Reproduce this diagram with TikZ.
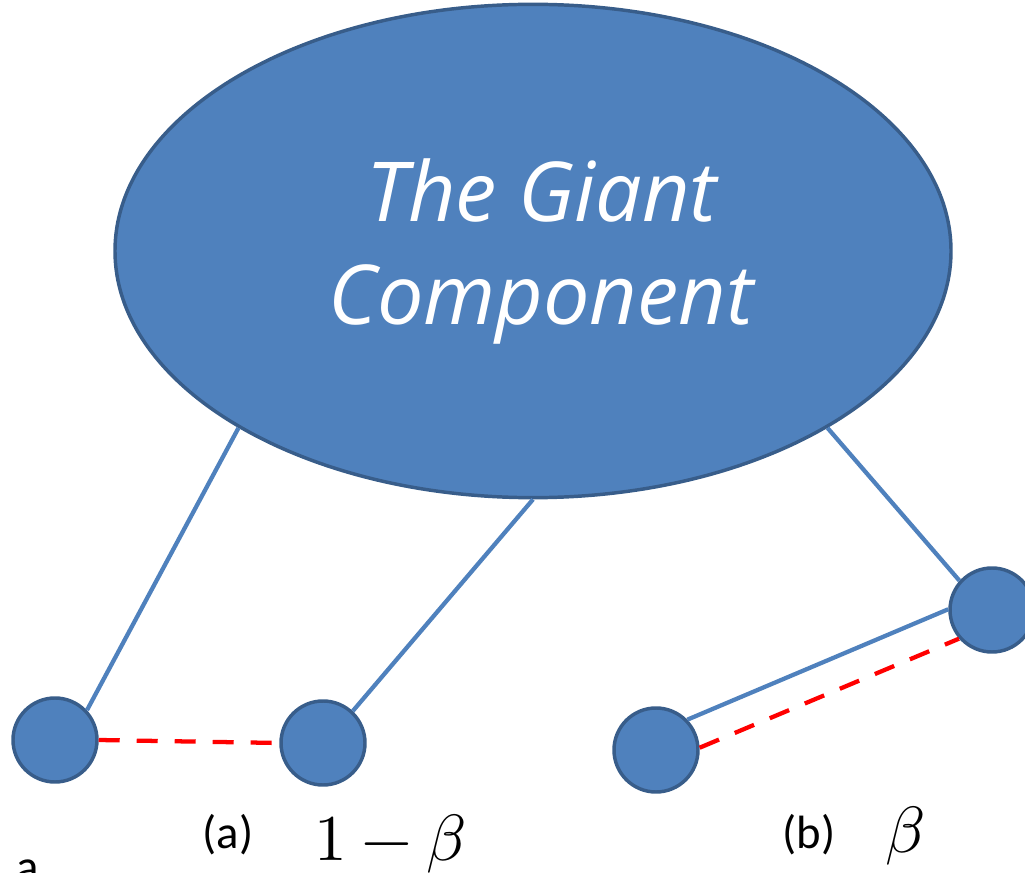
\documentclass[tikz,border=0pt]{standalone}
\usepackage{fontspec}
\usepackage{unicode-math}
\setsansfont{Carlito}
\newfontfamily\handfont{Open Sans}
\usetikzlibrary{shapes.geometric}
\definecolor{nodeblue}{HTML}{4F81BD}
\definecolor{borderblue}{HTML}{385D8A}
\begin{document}
\begin{tikzpicture}[x=0.75pt,y=-0.75pt,
  blob/.style={ellipse, fill=nodeblue, draw=borderblue, line width=2.6pt, inner sep=0pt},
  vert/.style={circle, fill=nodeblue, draw=borderblue, line width=2.6pt, minimum size=63pt, inner sep=0pt},
  edge/.style={draw=nodeblue, line width=3.2pt},
  redge/.style={draw=red, line width=3.2pt, dash pattern=on 15.75pt off 12.75pt},
  hand/.style={text=white, inner sep=0pt, anchor=base, font=\handfont\itshape\fontsize{62}{70}\selectfont},
  lab/.style={inner sep=0pt, font=\sffamily\fontsize{35}{40}\selectfont},
  mathlab/.style={inner sep=0pt, anchor=base, font=\fontsize{49}{55}\selectfont}]
\clip (0,0) rectangle (1025,873);
\node[blob, minimum width=627pt, minimum height=370pt] (G) at (533,251) {};
\node[hand] (t1) at (542,222) {The Giant};
\node[hand] (t2) at (541,325) {Component};
\node[vert] (L) at (55,740) {};
\node[vert] (M) at (323,743) {};
\node[vert] (B) at (656,750) {};
\node[vert] (R) at (992,610) {};
\draw[edge] (G.211) -- (L.43);
\draw[edge] (G.270) -- (M.47);
\draw[edge] (G.329) -- (R.138);
\draw[edge] (B.44) -- (R.179);
\draw[redge] (L.0) -- (M.180);
\draw[redge] (B.3) -- (R.221);
\node[lab] (la) at (228,835) {(a)};
\node[lab] (lb) at (809,835) {(b)};
\node[mathlab] (oneminus) at (390,860) {$1-\beta$};
\node[mathlab] (beta) at (905,852) {$\beta$};
\node[lab, anchor=base] (cut) at (28,882) {a};
\end{tikzpicture}
\end{document}
